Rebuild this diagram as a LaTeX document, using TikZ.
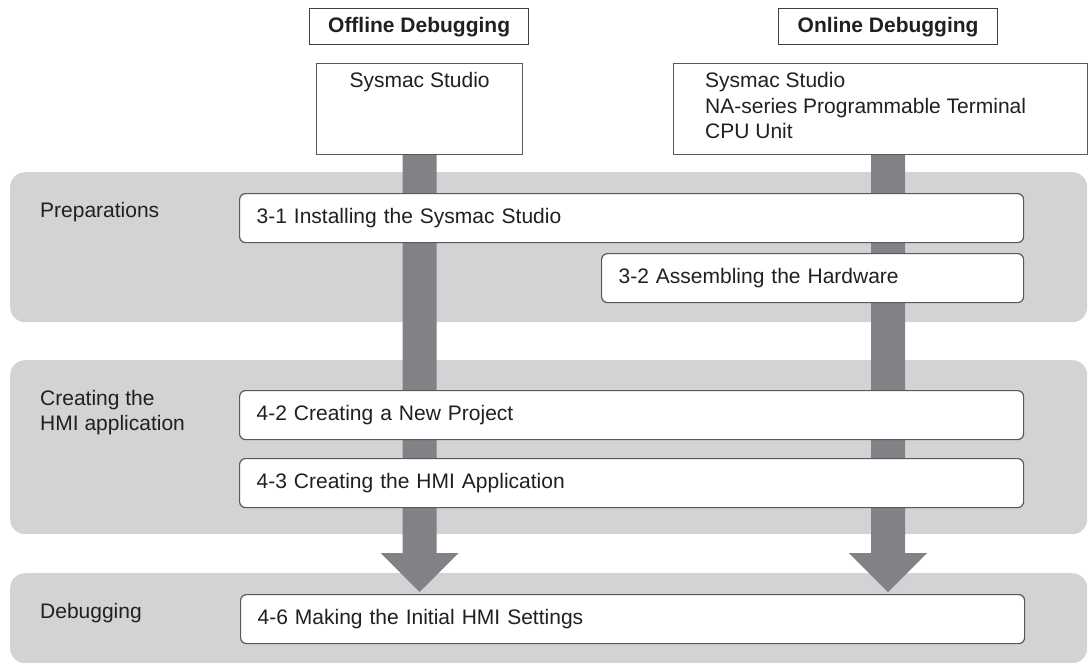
\documentclass[tikz,border=0pt]{standalone}
\usepackage{fontspec}
\setmainfont{Liberation Sans}
\usetikzlibrary{calc}
\usetikzlibrary{positioning}

\definecolor{bandgray}{HTML}{D1D3D4}
\definecolor{stemgray}{HTML}{808285}
\definecolor{edgegray}{HTML}{58595B}
\definecolor{inkgray}{HTML}{231F20}

\begin{document}
\begin{tikzpicture}[x=1pt, y=-1pt,
        every node/.style={font=\fontsize{21}{25.5}\selectfont, text=inkgray},
        band/.style={fill=bandgray, rounded corners=15pt, minimum width=1077pt, inner sep=0pt, anchor=north west},
        lbl/.style={inner sep=0pt, align=left, anchor=north west},
        hdr/.style={draw=inkgray!85, line width=1.3pt, minimum width=219pt, minimum height=36pt, inner sep=0pt, anchor=north west, font=\fontsize{21}{25.5}\selectfont\bfseries},
        srcbox/.style={draw=edgegray, fill=white, line width=1.2pt, minimum height=91pt, inner sep=0pt, anchor=north west},
        stepbox/.style={draw=edgegray, fill=white, line width=1.2pt, rounded corners=6pt, minimum height=49pt, inner xsep=17pt, inner ysep=0pt, align=left, anchor=north west},
        stem/.style={fill=stemgray}]
    \useasboundingbox (0,0) rectangle (1088,662);

    % phase bands
    \node[band, minimum height=150pt] (prep) at (10,172) {};
    \node[band, minimum height=174pt] (create) at (10,360) {};
    \node[band, minimum height=90pt] (debug) at (10,573) {};

    \node[lbl, below right=30pt and 30pt of prep.north west] (lprep) {Preparations};
    \node[lbl, below right=30pt and 30pt of create.north west] (lcreate) {Creating the\\HMI application};
    \node[lbl, below right=30pt and 30pt of debug.north west] (ldebug) {Debugging};

    % column heads
    \node[hdr] (hoff) at (309,8) {Offline Debugging};
    \node[hdr] (hon) at (778,8) {Online Debugging};

    \node[srcbox, minimum width=206pt] (srcoff) at (316,63) {};
    \node[lbl, anchor=north, below=9.5pt of srcoff.north] (toff) {Sysmac Studio};
    \node[srcbox, minimum width=414pt] (srcon) at (673,63) {};
    \node[lbl, below right=9.5pt and 32pt of srcon.north west] (ton) {Sysmac Studio\\NA-series Programmable Terminal\\CPU Unit};

    % steps
    \node[stepbox, text width=750pt] (s46) at (240,594) {4-6 Making the Initial HMI Settings};

    % big flow arrows
    \coordinate (offtop) at (srcoff.south);
    \coordinate (offend) at (srcoff.south |- s46.north);
    \coordinate (ontop) at ($(srcon.south west)+(215,0)$);
    \coordinate (onend) at (ontop |- s46.north);
    \fill[stem] ($(offtop)+(-17,0)$) -- ($(offend)+(-17,-41)$) -- ($(offend)+(-39,-41)$) -- ($(offend)+(0,-2)$)
        -- ($(offend)+(39,-41)$) -- ($(offend)+(17,-41)$) -- ($(offtop)+(17,0)$) -- cycle;
    \fill[stem] ($(ontop)+(-17,0)$) -- ($(onend)+(-17,-41)$) -- ($(onend)+(-39,-41)$) -- ($(onend)+(0,-2)$)
        -- ($(onend)+(39,-41)$) -- ($(onend)+(17,-41)$) -- ($(ontop)+(17,0)$) -- cycle;

    \node[stepbox, text width=750pt] (s31) at (239,193) {3-1 Installing the Sysmac Studio};
    \node[stepbox, text width=388pt] (s32) at (601,253) {3-2 Assembling the Hardware};
    \node[stepbox, text width=750pt] (s42) at (239,390) {4-2 Creating a New Project};
    \node[stepbox, text width=750pt] (s43) at (239,458) {4-3 Creating the HMI Application};
\end{tikzpicture}
\end{document}
